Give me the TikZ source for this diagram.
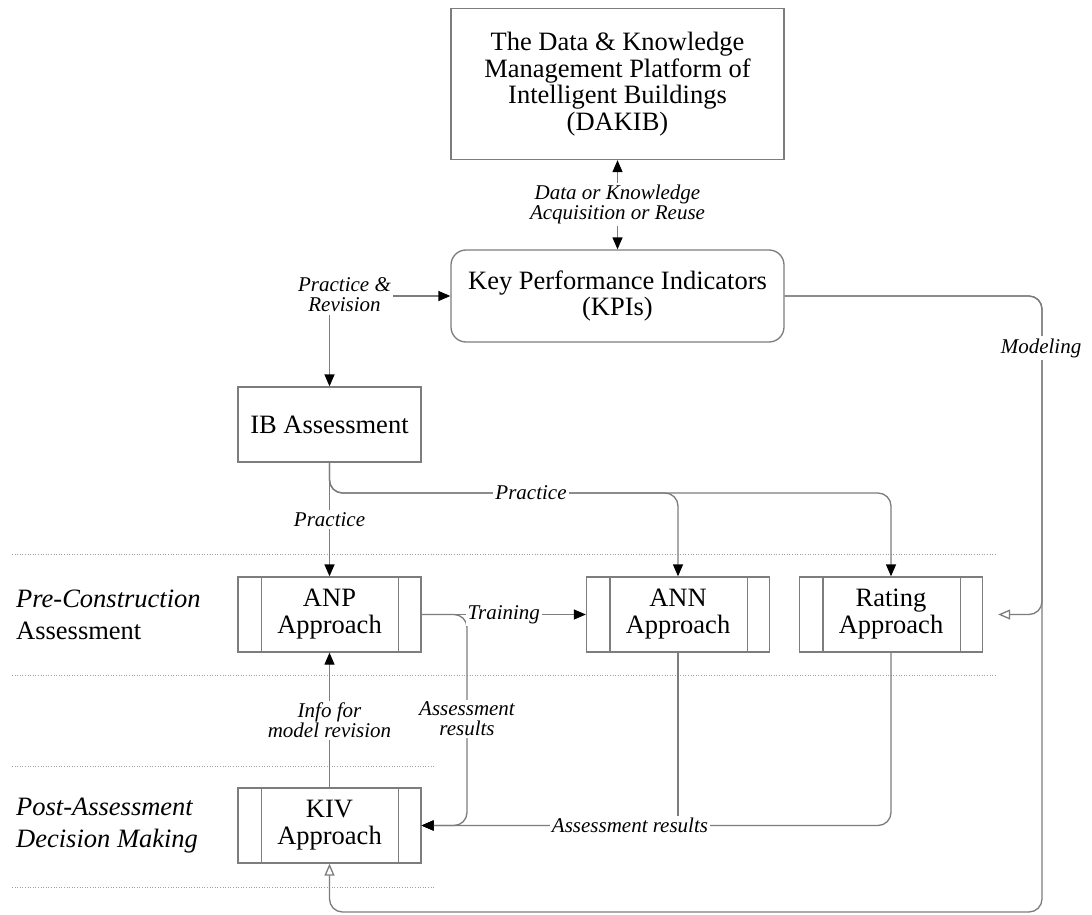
\documentclass[tikz,border=0pt]{standalone}
\usepackage{fontspec}
\setmainfont{Liberation Serif}
\usetikzlibrary{arrows.meta}
\definecolor{linegray}{RGB}{125,125,125}
\definecolor{dotgray}{RGB}{160,160,160}
\begin{document}
\begin{tikzpicture}[x=1pt,y=-1pt,
  >={Triangle[length=12pt,width=10pt,color=black]},
  opentip/.style={arrows={-Triangle[open,length=12pt,width=10pt]}},
  conn/.style={draw=linegray,line width=1.3pt},
  boxline/.style={draw=linegray,line width=1.3pt},
  plain/.style={boxline,inner sep=0pt,align=center,
    font=\fontsize{26.5}{26.5}\selectfont},
  appr/.style={plain,minimum width=183,minimum height=75,
    font=\fontsize{26.5}{27}\selectfont},
  lab/.style={fill=white,inner xsep=2pt,inner ysep=2pt,align=center,
    font=\fontsize{21}{20}\selectfont\itshape},
  grp/.style={inner sep=0pt,align=left,anchor=west,
    font=\fontsize{26.5}{32}\selectfont},
  sep/.style={draw=dotgray,line width=1pt,dash pattern=on 1pt off 1.6pt}]
\useasboundingbox[fill=white] (0,0) rectangle (1092,915);

% lane separators
\draw[sep] (12,554) -- (995,554);
\draw[sep] (12,675) -- (995,675);
\draw[sep] (12,766) -- (435,766);
\draw[sep] (12,887) -- (435,887);

% lane titles
\node[grp] (pre) at (16,615) {\textit{Pre-Construction}\\Assessment};
\node[grp] (post) at (16,826) {\textit{Post-Assessment}\\\textit{Decision Making}};

% main blocks
\node[plain,minimum width=333,minimum height=151] (dakib) at (617.5,84)
  {The Data \& Knowledge\\Management Platform of\\Intelligent Buildings\\(DAKIB)};
\node[plain,rounded corners=15,minimum width=333,minimum height=92] (kpi) at (617.5,296)
  {Key Performance Indicators\\(KPIs)};
\node[plain,minimum width=183,minimum height=75] (ib) at (329.5,424.5) {IB Assessment};
\node[appr] (anp) at (329.5,614.5) {ANP\\Approach};
\node[appr] (ann) at (678,614.5) {ANN\\Approach};
\node[appr] (rating) at (891,614.5) {Rating\\Approach};
\node[appr] (kiv) at (329.5,825.5) {KIV\\Approach};

% side strips of the approach blocks
\foreach \n in {anp,ann,rating,kiv}{
  \draw[boxline] ([xshift=24pt]\n.north west) -- ([xshift=24pt]\n.south west);
  \draw[boxline] ([xshift=-23pt]\n.north east) -- ([xshift=-23pt]\n.south east);
}

% helper points
\coordinate (pbranch) at (330,493);
\coordinate (arx) at (467,700);
\coordinate (mbot) at (1042,912);

% connectors
\draw[conn,<->] (kpi.north) -- node[lab] (l1) {Data or Knowledge\\Acquisition or Reuse} (dakib.south);
\draw[conn,<->] (ib.north) |- (kpi.west);
\node[lab,inner ysep=3pt] (l2) at (344.5,295) {Practice \&\\Revision};

\draw[conn,->,rounded corners=13] (ib.south) |- (ann.north |- pbranch) -- (ann.north);
\draw[conn,->,rounded corners=13] (ib.south) |- (rating.north |- pbranch) -- (rating.north);
\draw[conn,->] (ib.south) -- node[lab] (l3) {Practice} (anp.north);
\node[lab] (l4) at (531,493) {Practice};

\draw[conn,->,rounded corners=13] (anp.east) -| (arx |- kiv.east) -- (kiv.east);
\node[lab] (l6) at (467,719) {Assessment\\results};
\draw[conn,->] (anp.east) -- node[lab] (l5) {Training} (ann.west);

\draw[conn,->] (ann.south) |- (kiv.east);
\draw[conn,->,rounded corners=13] (rating.south) |- (kiv.east);
\node[lab] (l7) at (630,825.5) {Assessment results};

\draw[conn,->] (kiv.north) -- node[lab] (l9) {Info for\\model revision} (anp.south);

\draw[conn,opentip,rounded corners=13] (kpi.east) -| (mbot) -| (kiv.south);
\draw[conn,opentip,rounded corners=13,shorten >=15pt] (kpi.east) -| (mbot |- rating.east) -- (rating.east);
\node[lab] (l8) at (1041,348) {Modeling};
\end{tikzpicture}
\end{document}
